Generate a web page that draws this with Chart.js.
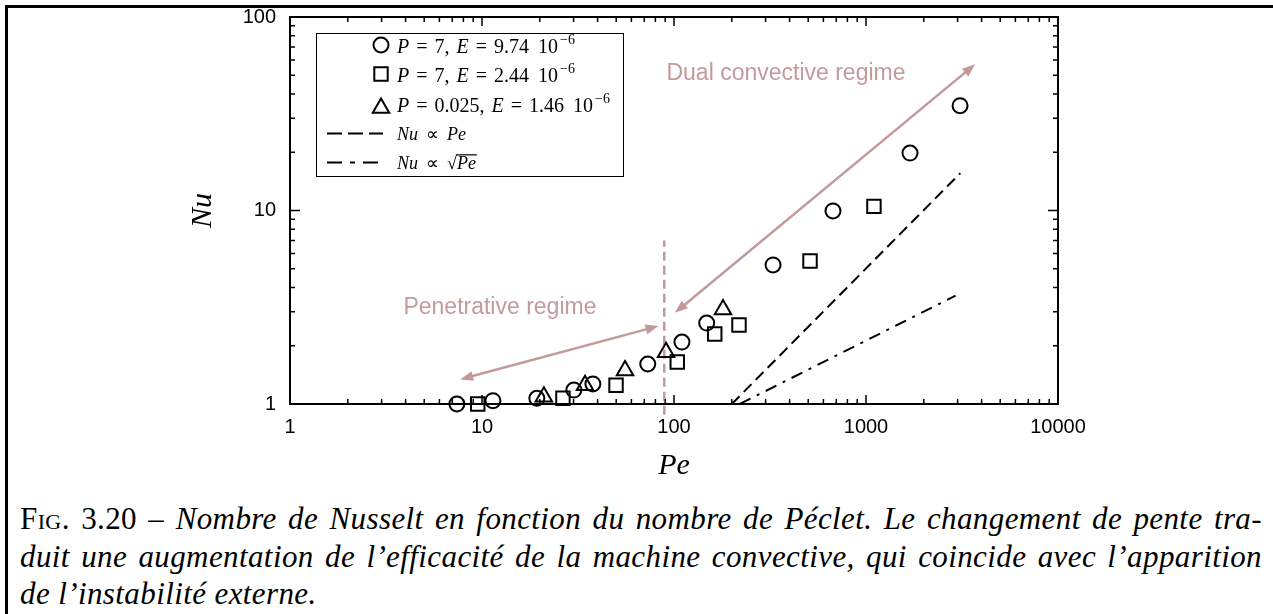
<!DOCTYPE html>
<html>
<head>
<meta charset="utf-8">
<title>Nu vs Pe</title>
<script src="https://cdn.jsdelivr.net/npm/chart.js@4.4.0/dist/chart.umd.min.js"></script>
<style>
  html, body { margin: 0; padding: 0; background: #fff; }
  body { width: 1273px; height: 614px; position: relative; overflow: hidden; }
  #frame { position: absolute; left: 5px; top: 5px; width: 1268px; height: 609px;
           border-top: 3px solid #000; border-left: 3px solid #000; box-sizing: border-box; }
  #plot { position: absolute; left: 0; top: 0; }
  .cap { position: absolute; left: 20px; width: 1242px; font-family: "Liberation Serif", serif;
         font-size: 31px; letter-spacing: 0.4px; line-height: 38px; white-space: nowrap; font-style: italic; color: #000; }
  .just { text-align: justify; text-align-last: justify; }
  .up { font-style: normal; }
  .sc { font-style: normal; font-variant: small-caps; }
</style>
</head>
<body>
<div id="frame"></div>
<canvas id="plot" width="1273" height="480"></canvas>
<div class="cap just" style="top:500px"><span class="sc">Fig.</span><span class="up"> 3.20 – </span> Nombre de Nusselt en fonction du nombre de Péclet. Le changement de pente tra-</div>
<div class="cap just" style="top:538px">duit une augmentation de l’efficacité de la machine convective, qui coincide avec l’apparition</div>
<div class="cap" style="top:575px">de l’instabilité externe.</div>
<script>
// measured Nusselt numbers, three runs
const circlePe = [7.4, 11.4, 19.3, 30.1, 37.8, 73, 110, 148, 328, 673, 1695, 3090];
const circleNu = [1.0, 1.04, 1.07, 1.18, 1.27, 1.61, 2.09, 2.62, 5.23, 9.95, 19.8, 34.8];
const squarePe = [9.5, 26.4, 49.9, 104, 163, 218, 511, 1100];
const squareNu = [1.0, 1.07, 1.25, 1.65, 2.30, 2.56, 5.48, 10.5];
const trianglePe = [21.0, 34.4, 55.6, 90.9, 180];
const triangleNu = [1.09, 1.25, 1.49, 1.85, 3.08];

// reference slopes
const linearPe = [200, 3100];
const linearNu = [1, 15.6];
const sqrtPe = [220, 2930];
const sqrtNu = [1, 3.63];

// regime separation and annotations (data coordinates)
const onsetPe = [89, 89];
const onsetNu = [0.88, 7.0];
const penetrativeArrow = [[7.7, 1.34], [83, 2.53]];
const dualArrow = [[101, 2.96], [3700, 57]];
const penetrativeLabel = [12.4, 3.13];
const dualLabel = [383, 50.7];

const xTickValues = [1, 10, 100, 1000, 10000];
const yTickValues = [1, 10, 100];

const PINK = '#c39a9a';
const pts = (xs, ys) => xs.map((x, i) => ({ x, y: ys[i] }));

function arrowHead(ctx, fx, fy, tx, ty){
    const a = Math.atan2(ty - fy, tx - fx), len = 13, half = 5;
    const bx = tx - len * Math.cos(a), by = ty - len * Math.sin(a);
    ctx.beginPath();
    ctx.moveTo(tx, ty);
    ctx.lineTo(bx + half * Math.sin(a), by - half * Math.cos(a));
    ctx.lineTo(bx - half * Math.sin(a), by + half * Math.cos(a));
    ctx.closePath();
    ctx.fill();
}

function doubleArrow(chart, pair){
    const { ctx, scales: { x, y } } = chart;
    const x1 = x.getPixelForValue(pair[0][0]), y1 = y.getPixelForValue(pair[0][1]);
    const x2 = x.getPixelForValue(pair[1][0]), y2 = y.getPixelForValue(pair[1][1]);
    const a = Math.atan2(y2 - y1, x2 - x1);
    ctx.save();
    ctx.strokeStyle = PINK; ctx.fillStyle = PINK; ctx.lineWidth = 2.5;
    ctx.beginPath();
    ctx.moveTo(x1 + 10 * Math.cos(a), y1 + 10 * Math.sin(a));
    ctx.lineTo(x2 - 10 * Math.cos(a), y2 - 10 * Math.sin(a));
    ctx.stroke();
    arrowHead(ctx, x2, y2, x1, y1);
    arrowHead(ctx, x1, y1, x2, y2);
    ctx.restore();
}

// text made of runs: {t, it (italic), sup, gap (px before)}
function drawRuns(ctx, x, y, runs, size){
    let cx = x;
    runs.forEach(r => {
        cx += r.gap || 0;
        const fs = r.sup ? size * 0.7 : size;
        ctx.font = (r.it ? 'italic ' : '') + fs + 'px "Liberation Serif", serif';
        const yy = r.sup ? y - size * 0.45 : y;
        ctx.fillText(r.t, cx, yy);
        const w = ctx.measureText(r.t).width;
        if(r.bar){ // radical sign overline
            ctx.fillRect(cx - 1, y - size * 0.82, w + 2, 1.2);
        }
        cx += w;
    });
    return cx;
}

function drawMarker(ctx, kind, cx, cy){
    ctx.beginPath();
    if(kind === 'circle') ctx.arc(cx, cy, 7.5, 0, Math.PI * 2);
    else if(kind === 'rect') ctx.rect(cx - 6.7, cy - 6.7, 13.4, 13.4);
    else {
        const r = 9.5;
        ctx.moveTo(cx, cy - r);
        ctx.lineTo(cx + r * 0.866, cy + r / 2);
        ctx.lineTo(cx - r * 0.866, cy + r / 2);
        ctx.closePath();
    }
    ctx.stroke();
}

function drawLegend(ctx){
    const x0 = 316, y0 = 33, w = 307, h = 143;
    ctx.save();
    ctx.fillStyle = '#fff';
    ctx.fillRect(x0, y0, w, h);
    ctx.strokeStyle = '#000'; ctx.lineWidth = 1;
    ctx.strokeRect(x0 + 0.5, y0 + 0.5, w, h);
    ctx.fillStyle = '#000';
    ctx.textBaseline = 'alphabetic'; ctx.textAlign = 'left';
    ctx.lineWidth = 2;

    const tx = 397, size = 20;
    const param = (p, e) => [
        { t: 'P', it: true }, { t: '=', gap: 7 }, { t: p + ',', gap: 7 },
        { t: 'E', it: true, gap: 7 }, { t: '=', gap: 7 }, { t: e, gap: 7 },
        { t: '10', gap: 9 }, { t: '−6', sup: true, gap: 2 }
    ];
    drawMarker(ctx, 'circle', 381, 45);
    drawRuns(ctx, tx, 53, param('7', '9.74'), size);
    drawMarker(ctx, 'rect', 381, 74);
    drawRuns(ctx, tx, 82, param('7', '2.44'), size);
    drawMarker(ctx, 'triangle', 381, 108);
    drawRuns(ctx, tx, 112, param('0.025', '1.46'), size);

    ctx.setLineDash([15, 6]);
    ctx.beginPath(); ctx.moveTo(327, 133.5); ctx.lineTo(383, 133.5); ctx.stroke();
    ctx.setLineDash([15, 8, 5, 8]);
    ctx.beginPath(); ctx.moveTo(327, 162.5); ctx.lineTo(383, 162.5); ctx.stroke();
    ctx.setLineDash([]);
    drawRuns(ctx, tx, 140, [{ t: 'Nu', it: true }, { t: '∝', gap: 8 }, { t: 'Pe', it: true, gap: 8 }], 18);
    drawRuns(ctx, tx, 169, [{ t: 'Nu', it: true }, { t: '∝', gap: 8 }, { t: '√', gap: 8 }, { t: 'Pe', it: true, bar: true }], 18);
    ctx.restore();
}

const overlay = {
    id: 'overlay',
    afterDatasetsDraw(chart){
        const { ctx, chartArea: a, scales: { x, y } } = chart;
        ctx.save();
        // axis box
        ctx.strokeStyle = '#000'; ctx.lineWidth = 2;
        ctx.strokeRect(a.left, a.top, a.right - a.left, a.bottom - a.top);
        // inward ticks on all four sides
        ctx.lineWidth = 1.5;
        ctx.beginPath();
        for(let d = 1; d <= 10000; d *= 10){
            for(let m = 1; m < 10; m++){
                const v = m * d;
                if(v > 10000) break;
                const px = x.getPixelForValue(v), L = m === 1 ? 9 : 5;
                ctx.moveTo(px, a.bottom); ctx.lineTo(px, a.bottom - L);
                ctx.moveTo(px, a.top); ctx.lineTo(px, a.top + L);
            }
        }
        for(let d = 1; d <= 100; d *= 10){
            for(let m = 1; m < 10; m++){
                const v = m * d;
                if(v > 100) break;
                const py = y.getPixelForValue(v), L = m === 1 ? 10 : 5;
                ctx.moveTo(a.left, py); ctx.lineTo(a.left + L, py);
                ctx.moveTo(a.right, py); ctx.lineTo(a.right - L, py);
            }
        }
        ctx.stroke();

        // axis titles
        ctx.fillStyle = '#000';
        ctx.font = 'italic 30px "Liberation Serif", serif';
        ctx.textAlign = 'center'; ctx.textBaseline = 'middle';
        ctx.fillText('Pe', (a.left + a.right) / 2, 466);
        ctx.save();
        ctx.translate(203, (a.top + a.bottom) / 2);
        ctx.rotate(-Math.PI / 2);
        ctx.fillText('Nu', 0, 0);
        ctx.restore();

        // regimes
        doubleArrow(chart, penetrativeArrow);
        doubleArrow(chart, dualArrow);
        ctx.fillStyle = PINK;
        ctx.font = '23px "Liberation Sans", Arial, sans-serif';
        ctx.fillText('Penetrative regime', x.getPixelForValue(penetrativeLabel[0]), y.getPixelForValue(penetrativeLabel[1]));
        ctx.fillText('Dual convective regime', x.getPixelForValue(dualLabel[0]), y.getPixelForValue(dualLabel[1]));
        ctx.restore();

        drawLegend(ctx);
    }
};

const tickFont = { family: '"Liberation Sans", Arial, sans-serif', size: 20 };
const markerBase = { borderColor: '#000', backgroundColor: 'rgba(0,0,0,0)', borderWidth: 2, clip: false };

new Chart(document.getElementById('plot').getContext('2d'), {
    type: 'scatter',
    data: {
        datasets: [
            { ...markerBase, label: 'P = 7, E = 9.74e-6', data: pts(circlePe, circleNu), pointStyle: 'circle', pointRadius: 7.5 },
            { ...markerBase, label: 'P = 7, E = 2.44e-6', data: pts(squarePe, squareNu), pointStyle: 'rect', pointRadius: 9.5 },
            { ...markerBase, label: 'P = 0.025, E = 1.46e-6', data: pts(trianglePe, triangleNu), pointStyle: 'triangle', pointRadius: 9.5 },
            { type: 'line', label: 'Nu ~ Pe', data: pts(linearPe, linearNu), showLine: true, borderColor: '#000', borderWidth: 2, borderDash: [11, 6], pointRadius: 0, fill: false },
            { type: 'line', label: 'Nu ~ sqrt(Pe)', data: pts(sqrtPe, sqrtNu), showLine: true, borderColor: '#000', borderWidth: 2, borderDash: [12, 7, 3, 7], pointRadius: 0, fill: false },
            { type: 'line', label: 'onset', data: pts(onsetPe, onsetNu), showLine: true, borderColor: PINK, borderWidth: 2.5, borderDash: [9, 5], pointRadius: 0, fill: false, clip: false }
        ]
    },
    options: {
        responsive: false,
        animation: false,
        events: [],
        layout: { padding: { top: 17, right: 215, left: 0, bottom: 0 } },
        plugins: { legend: { display: false }, tooltip: { enabled: false } },
        scales: {
            x: {
                type: 'logarithmic', min: 1, max: 10000,
                grid: { display: false, drawTicks: false }, border: { display: false },
                afterBuildTicks: s => { s.ticks = xTickValues.map(v => ({ value: v })); },
                afterFit: s => { s.height = 76; s.paddingLeft = 0; s.paddingRight = 0; },
                ticks: { padding: 11, color: '#000', font: tickFont, maxRotation: 0, autoSkip: false, callback: v => String(v) }
            },
            y: {
                type: 'logarithmic', min: 1, max: 100,
                grid: { display: false, drawTicks: false }, border: { display: false },
                afterBuildTicks: s => { s.ticks = yTickValues.map(v => ({ value: v })); },
                afterFit: s => { s.width = 290; s.paddingTop = 0; s.paddingBottom = 0; },
                ticks: { padding: 14, color: '#000', font: tickFont, autoSkip: false, callback: v => String(v) }
            }
        }
    },
    plugins: [overlay]
});
</script>
</body>
</html>
